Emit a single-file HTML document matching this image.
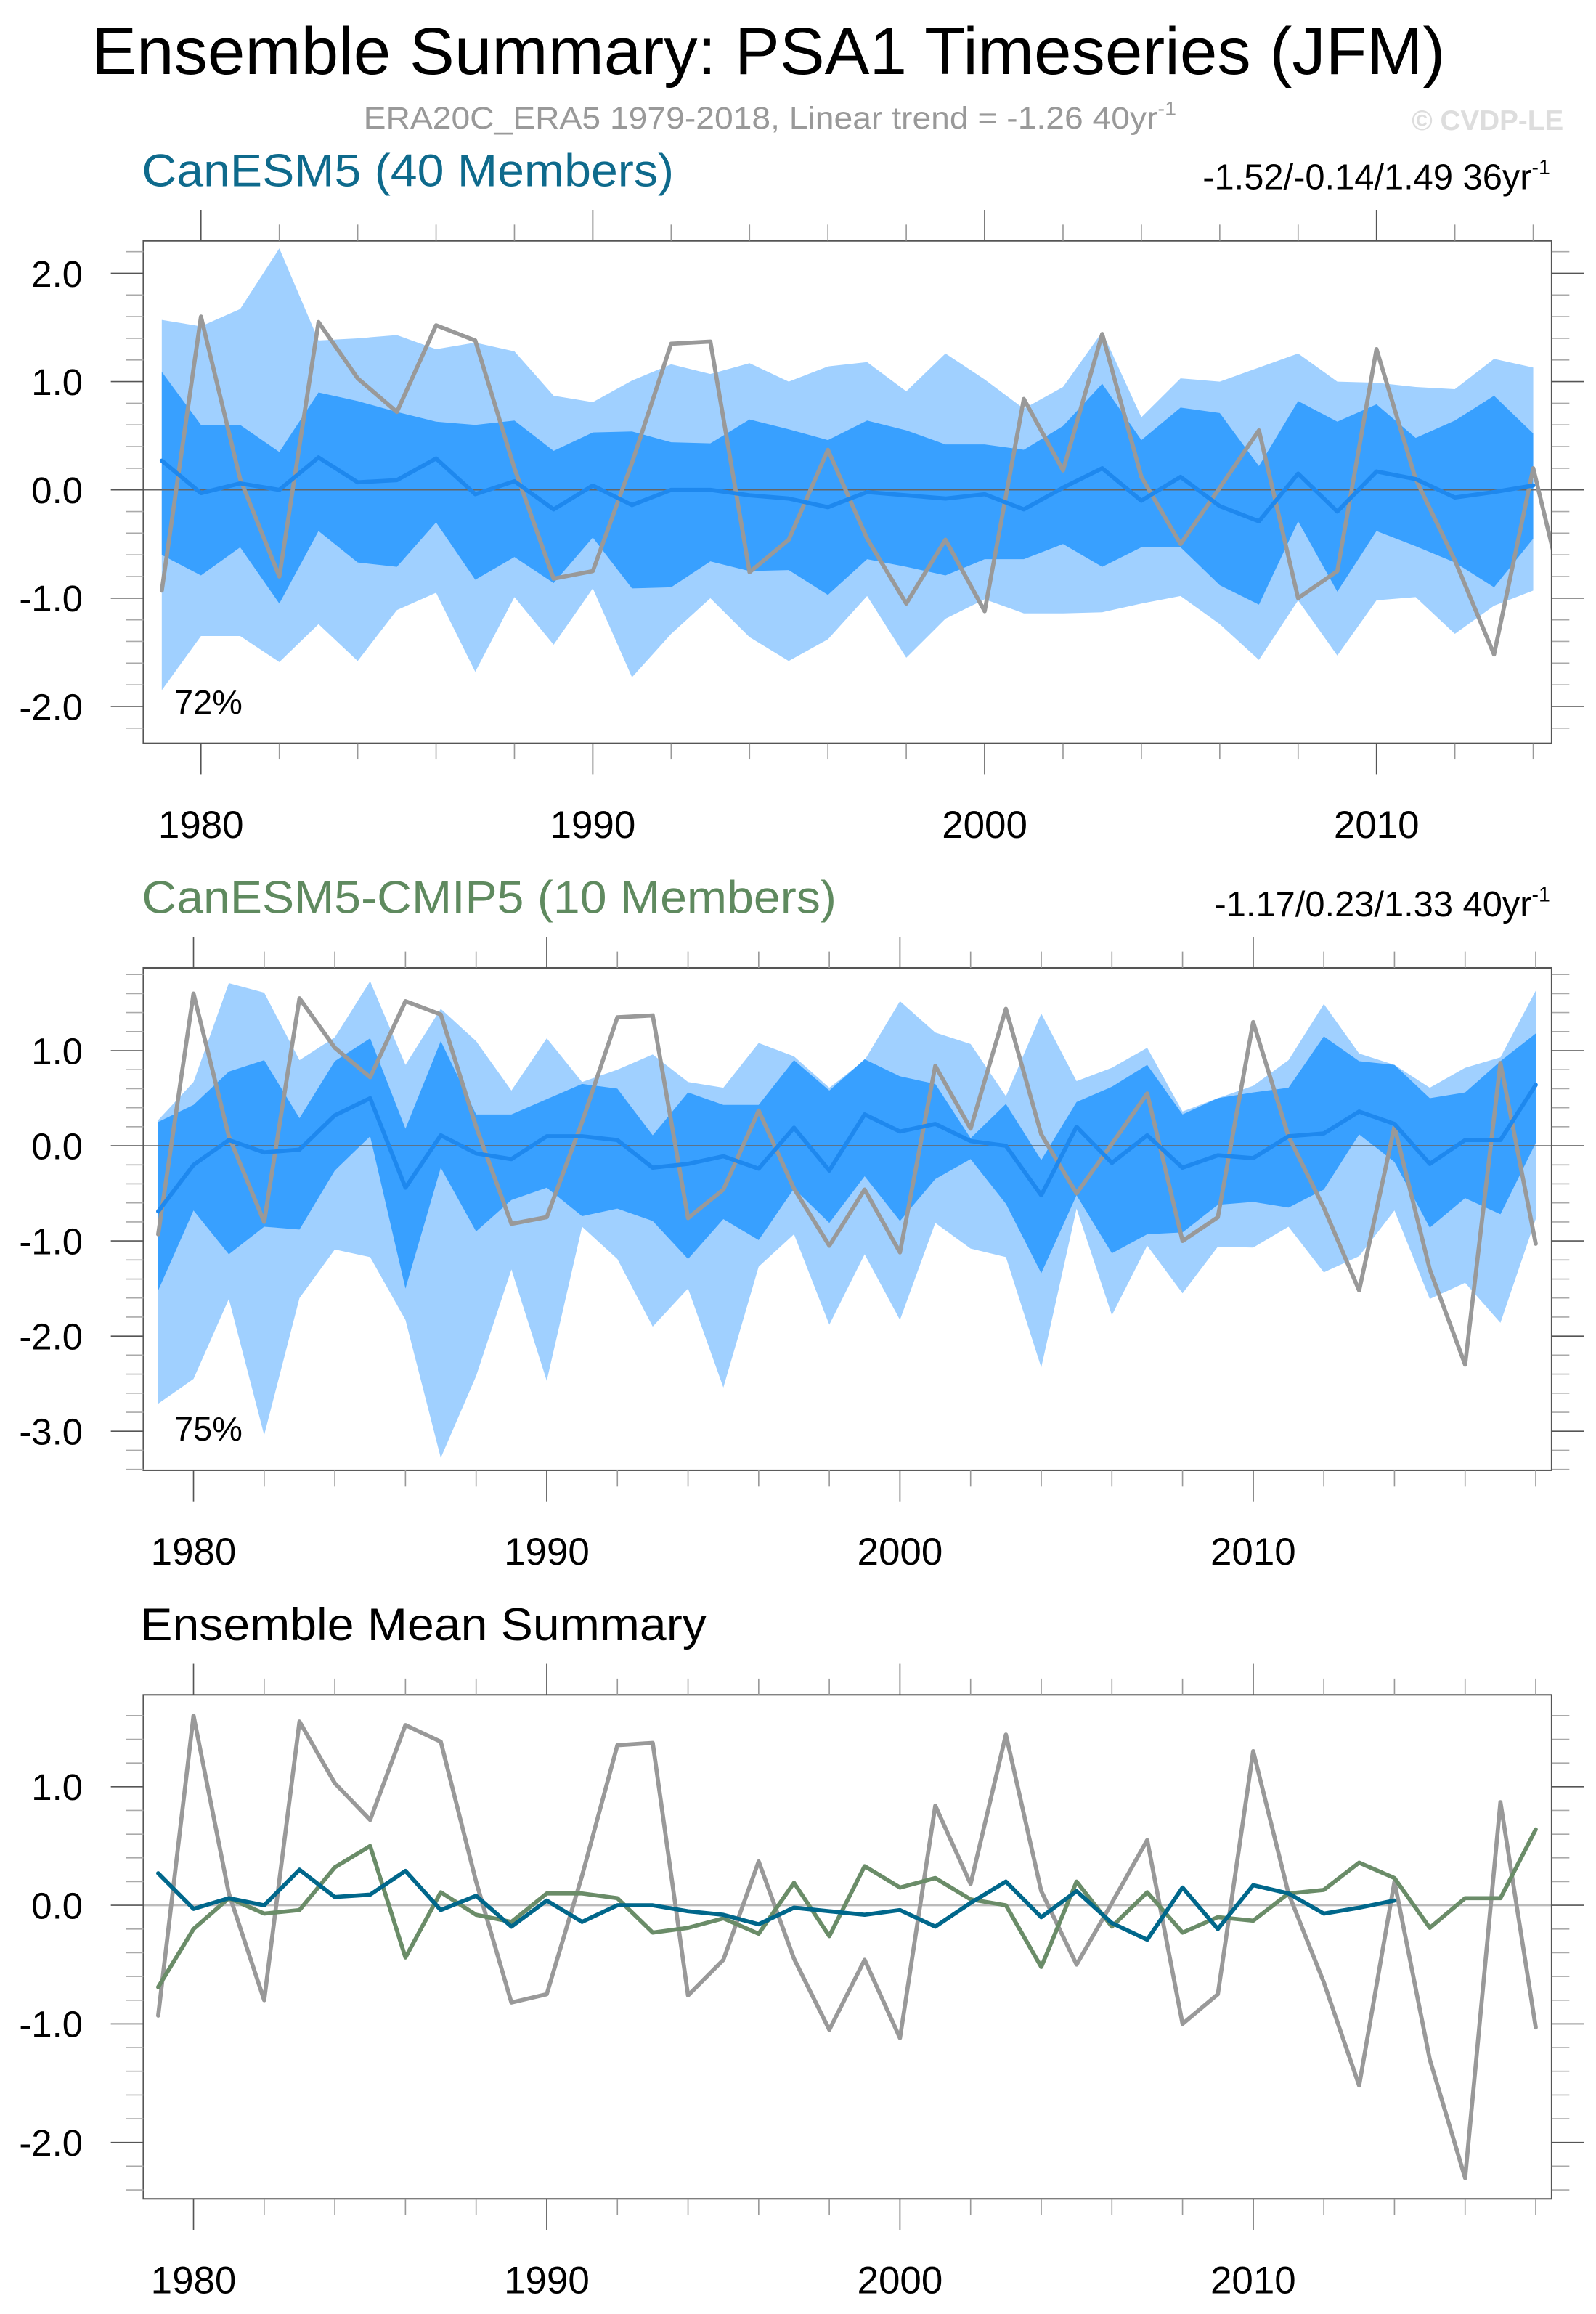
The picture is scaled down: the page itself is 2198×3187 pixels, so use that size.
<!DOCTYPE html>
<html><head><meta charset="utf-8"><style>
html,body{margin:0;padding:0;background:#fff}
svg{display:block}
text{font-family:"Liberation Sans",Arial,sans-serif}
</style></head><body>
<svg id="chart" xmlns="http://www.w3.org/2000/svg" width="2198" height="3187" viewBox="0 0 1080 1566">
<text x="62" y="50" font-size="45" textLength="916" lengthAdjust="spacingAndGlyphs">Ensemble Summary: PSA1 Timeseries (JFM)</text>
<text x="246" y="87" font-size="21" fill="#999" textLength="550" lengthAdjust="spacingAndGlyphs">ERA20C_ERA5 1979-2018, Linear trend = -1.26 40yr<tspan dy="-9" font-size="13">-1</tspan></text>
<text x="1058" y="88" font-size="19" font-weight="bold" fill="#ddd" text-anchor="end">© CVDP-LE</text>
<g id="p1"></g><g id="p2"></g><g id="p3"></g>
</svg>
<script>
const years1 = [];
for (let y = 1979; y <= 2014; y++) years1.push(y);
const years2 = [];
for (let y = 1979; y <= 2018; y++) years2.push(y);
const xTickYears = [1980, 1990, 2000, 2010];

const obs = [-0.93,1.6,0.1,-0.8,1.55,1.03,0.72,1.52,1.38,0.2,-0.82,-0.75,0.25,1.35,1.37,-0.76,-0.46,0.37,-0.45,-1.05,-0.46,-1.12,0.84,0.18,1.44,0.12,-0.5,0.02,0.55,-1.0,-0.75,1.3,0.1,-0.65,-1.52,0.2,-1.3,-2.3,0.87,-1.03];

const m1Mean = [0.27,-0.03,0.06,0.0,0.3,0.07,0.09,0.29,-0.04,0.08,-0.18,0.04,-0.14,0.0,0.0,-0.05,-0.08,-0.16,-0.02,-0.05,-0.08,-0.04,-0.18,0.02,0.2,-0.1,0.12,-0.15,-0.29,0.15,-0.2,0.17,0.1,-0.07,-0.02,0.04];
const m1OuterHi = [1.57,1.51,1.67,2.23,1.38,1.4,1.43,1.3,1.36,1.28,0.87,0.81,1.01,1.16,1.07,1.17,1.0,1.14,1.18,0.91,1.26,1.02,0.75,0.95,1.46,0.67,1.03,1.0,1.13,1.26,1.0,0.99,0.95,0.93,1.21,1.13];
const m1InnerHi = [1.09,0.6,0.6,0.35,0.9,0.82,0.72,0.63,0.6,0.64,0.36,0.53,0.54,0.44,0.43,0.65,0.56,0.46,0.64,0.55,0.42,0.42,0.37,0.59,0.98,0.46,0.76,0.71,0.22,0.82,0.63,0.79,0.48,0.64,0.87,0.52];
const m1InnerLo = [-0.6,-0.79,-0.53,-1.05,-0.38,-0.67,-0.71,-0.3,-0.83,-0.62,-0.86,-0.44,-0.91,-0.9,-0.66,-0.75,-0.74,-0.97,-0.64,-0.71,-0.79,-0.64,-0.64,-0.5,-0.71,-0.53,-0.53,-0.88,-1.06,-0.29,-0.94,-0.38,-0.52,-0.67,-0.9,-0.45];
const m1OuterLo = [-1.85,-1.35,-1.35,-1.59,-1.24,-1.58,-1.11,-0.95,-1.68,-0.99,-1.43,-0.91,-1.73,-1.33,-1.0,-1.36,-1.58,-1.38,-0.98,-1.55,-1.19,-1.01,-1.14,-1.14,-1.13,-1.05,-0.98,-1.24,-1.57,-1.02,-1.53,-1.02,-0.99,-1.33,-1.07,-0.93];

const m2Mean = [-0.69,-0.2,0.06,-0.07,-0.04,0.32,0.5,-0.44,0.11,-0.08,-0.14,0.1,0.1,0.06,-0.23,-0.19,-0.11,-0.24,0.19,-0.26,0.33,0.15,0.23,0.05,0.0,-0.52,0.2,-0.18,0.11,-0.23,-0.1,-0.13,0.1,0.13,0.36,0.23,-0.19,0.06,0.06,0.64];
const m2OuterHi = [0.27,0.67,1.71,1.61,0.9,1.14,1.73,0.85,1.44,1.1,0.58,1.13,0.67,0.8,0.96,0.67,0.61,1.08,0.94,0.61,0.9,1.52,1.19,1.07,0.52,1.39,0.68,0.82,1.03,0.36,0.5,0.63,0.9,1.49,0.97,0.85,0.61,0.82,0.93,1.63];
const m2InnerHi = [0.25,0.43,0.78,0.9,0.29,0.89,1.13,0.18,1.1,0.33,0.33,0.49,0.65,0.6,0.11,0.56,0.43,0.43,0.9,0.58,0.91,0.73,0.65,0.08,0.44,-0.15,0.46,0.62,0.85,0.33,0.5,0.56,0.61,1.15,0.89,0.85,0.5,0.56,0.89,1.18];
const m2InnerLo = [-1.52,-0.68,-1.14,-0.85,-0.88,-0.26,0.1,-1.5,-0.23,-0.9,-0.57,-0.44,-0.74,-0.66,-0.79,-1.19,-0.77,-0.99,-0.45,-0.81,-0.32,-0.79,-0.35,-0.14,-0.61,-1.34,-0.52,-1.13,-0.93,-0.91,-0.62,-0.59,-0.65,-0.46,0.12,-0.17,-0.86,-0.55,-0.72,0.03];
const m2OuterLo = [-2.71,-2.45,-1.61,-3.04,-1.6,-1.09,-1.17,-1.83,-3.28,-2.42,-1.3,-2.47,-0.85,-1.19,-1.9,-1.5,-2.54,-1.27,-0.93,-1.88,-1.14,-1.83,-0.81,-1.08,-1.17,-2.33,-0.66,-1.78,-1.05,-1.55,-1.06,-1.07,-0.85,-1.33,-1.16,-0.68,-1.61,-1.44,-1.86,-0.77];

const yTicks1 = [2, 1, 0, -1, -2];
const yTicks2 = [1, 0, -1, -2, -3];
const yTicks3 = [1, 0, -1, -2];

const NS = "http://www.w3.org/2000/svg";
function mk(parent, tag, attrs) {
  const e = document.createElementNS(NS, tag);
  for (const k in attrs) e.setAttribute(k, attrs[k]);
  parent.appendChild(e);
  return e;
}

function panel(gid, cfg) {
  const g = document.getElementById(gid);
  const L = 97, R = 1050, T = cfg.top, B = cfg.bottom;
  const sx = v => L + (v - cfg.x0) / (cfg.x1 - cfg.x0) * (R - L);
  const sy = v => T + (cfg.y1 - v) / (cfg.y1 - cfg.y0) * (B - T);
  const clipId = gid + "-clip";
  const cp = mk(g, "clipPath", {id: clipId});
  mk(cp, "rect", {x: L, y: T, width: R - L, height: B - T});
  const plot = mk(g, "g", {"clip-path": "url(#" + clipId + ")"});
  
  

  function band(years, hi, lo, color, name) {
    let d = "";
    years.forEach((y, i) => { d += (i ? "L" : "M") + sx(y).toFixed(2) + "," + sy(hi[i]).toFixed(2); });
    for (let i = years.length - 1; i >= 0; i--) d += "L" + sx(years[i]).toFixed(2) + "," + sy(lo[i]).toFixed(2);
    const p = mk(plot, "path", {d: d + "Z", fill: color});
    
    
  }
  function line(years, vals, color, w, name) {
    const pts = years.map((y, i) => sx(y).toFixed(2) + "," + sy(vals[i]).toFixed(2)).join(" ");
    const p = mk(plot, "polyline", {points: pts, fill: "none", stroke: color, "stroke-width": w, "stroke-linejoin": "round", "stroke-linecap": "round"});
    
    
  }
  if (cfg.bands) {
    band(cfg.years, cfg.bands.oh, cfg.bands.ol, "#a0d0ff", "outer-spread-band");
    band(cfg.years, cfg.bands.ih, cfg.bands.il, "#38a0ff", "inner-spread-band");
  }
  const z = mk(plot, "line", {x1: L, x2: R, y1: sy(0), y2: sy(0), stroke: cfg.bands ? "#666" : "#bbb", "stroke-width": cfg.bands ? 0.8 : 1.2});
  
  
  cfg.lines.forEach(l => line(l.years, l.vals, l.color, l.w, l.name));

  const frame = mk(g, "rect", {x: L, y: T, width: R - L, height: B - T, fill: "none", stroke: "#555", "stroke-width": 1});
  
  

  for (let y = 1980; y <= cfg.x1; y += 2) {
    const major = (y % 10 === 0);
    const len = major ? 21 : 11;
    const c = major ? "#555" : "#999";
    mk(g, "line", {x1: sx(y), x2: sx(y), y1: T, y2: T - len, stroke: c, "stroke-width": 0.8});
    mk(g, "line", {x1: sx(y), x2: sx(y), y1: B, y2: B + len, stroke: c, "stroke-width": 0.8});
  }
  xTickYears.forEach(y => {
    const t = mk(g, "text", {x: sx(y), y: B + 64, "font-size": 26, "text-anchor": "middle"});
    t.textContent = String(y);
    
    
  });
  const lo = Math.ceil(cfg.y0 * 5), hi = Math.floor(cfg.y1 * 5);
  for (let k = lo; k <= hi; k++) {
    const major = (k % 5 === 0);
    const len = major ? 22 : 12;
    const c = major ? "#555" : "#aaa";
    mk(g, "line", {x1: L, x2: L - len, y1: sy(k / 5), y2: sy(k / 5), stroke: c, "stroke-width": 0.8});
    mk(g, "line", {x1: R, x2: R + len, y1: sy(k / 5), y2: sy(k / 5), stroke: c, "stroke-width": 0.8});
  }
  cfg.yTicks.forEach(v => {
    const t = mk(g, "text", {x: 56, y: sy(v) + 9, "font-size": 25, "text-anchor": "end"});
    t.textContent = v.toFixed(1);
    
    
  });
  const tt = mk(g, "text", {x: cfg.titleX, y: T - 37, "font-size": 31, fill: cfg.titleColor, textLength: cfg.titleW, lengthAdjust: "spacingAndGlyphs"});
  tt.textContent = cfg.title;
  
  
  if (cfg.trend) {
    const r = mk(g, "text", {x: 1049, y: T - 35, "font-size": 24, "text-anchor": "end"});
    r.textContent = cfg.trend;
    const sup = mk(r, "tspan", {dy: -10, "font-size": 14});
    sup.textContent = "-1";
    
    
  }
  if (cfg.pct) {
    const p = mk(g, "text", {x: 118, y: B - 20, "font-size": 23});
    p.textContent = cfg.pct;
    
    
  }
}

panel("p1", {name: "canesm5", top: 163, bottom: 503, x0: 1978.53, x1: 2014.47, y0: -2.34, y1: 2.3,
  years: years1, bands: {oh: m1OuterHi, ih: m1InnerHi, il: m1InnerLo, ol: m1OuterLo},
  lines: [{years: years2, vals: obs, color: "#999", w: 2.8, name: "observed-line"},
          {years: years1, vals: m1Mean, color: "#1e88ee", w: 2.8, name: "ensemble-mean-line"}],
  yTicks: yTicks1, title: "CanESM5 (40 Members)", titleColor: "#0e6a8c", titleX: 96, titleW: 360,
  trend: "-1.52/-0.14/1.49 36yr", pct: "72%"});

panel("p2", {name: "canesm5-cmip5", top: 655, bottom: 995, x0: 1978.58, x1: 2018.45, y0: -3.41, y1: 1.87,
  years: years2, bands: {oh: m2OuterHi, ih: m2InnerHi, il: m2InnerLo, ol: m2OuterLo},
  lines: [{years: years2, vals: obs, color: "#999", w: 2.8, name: "observed-line"},
          {years: years2, vals: m2Mean, color: "#1e88ee", w: 2.8, name: "ensemble-mean-line"}],
  yTicks: yTicks2, title: "CanESM5-CMIP5 (10 Members)", titleColor: "#5f8a5f", titleX: 96, titleW: 470,
  trend: "-1.17/0.23/1.33 40yr", pct: "75%"});

panel("p3", {name: "ensemble-mean-summary", top: 1147, bottom: 1488, x0: 1978.58, x1: 2018.45, y0: -2.475, y1: 1.775,
  years: years2, bands: null,
  lines: [{years: years2, vals: obs, color: "#999", w: 2.8, name: "observed-line"},
          {years: years2, vals: m2Mean, color: "#6a8c68", w: 2.8, name: "canesm5-cmip5-mean-line"},
          {years: years1, vals: m1Mean, color: "#00678b", w: 2.8, name: "canesm5-mean-line"}],
  yTicks: yTicks3, title: "Ensemble Mean Summary", titleColor: "#000", titleX: 95, titleW: 383});
</script>
</body></html>
